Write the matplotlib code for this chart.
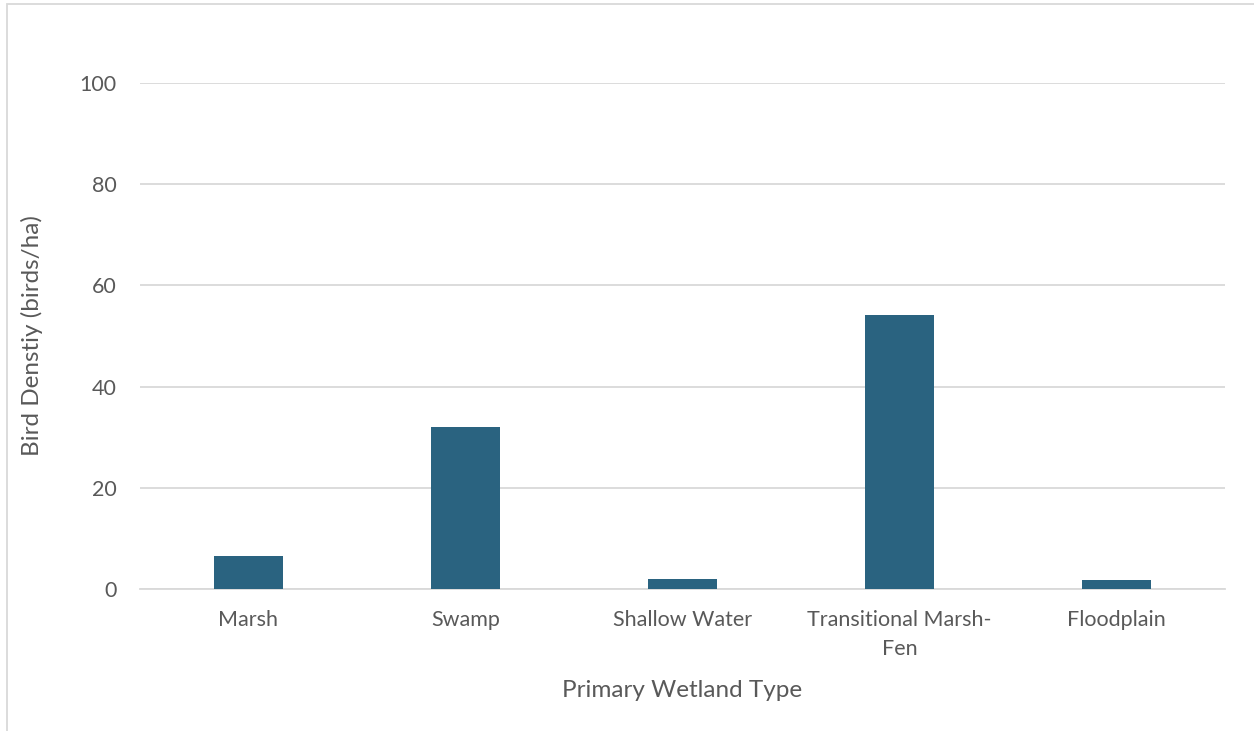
import matplotlib
matplotlib.use('Agg')
import matplotlib.pyplot as plt
from matplotlib.patches import Rectangle

categories = ['Marsh', 'Swamp', 'Shallow Water', 'Transitional Marsh-\nFen', 'Floodplain']
density = [6.5, 32.1, 2.0, 54.2, 1.7]
yticks = [0, 20, 40, 60, 80, 100]

plt.rcParams['font.family'] = ['Lato', 'DejaVu Sans']
txt = '#595959'
grid = '#D9D9D9'

fig = plt.figure(figsize=(12.54, 7.31), dpi=100)
ax = fig.add_axes([140/1254, 1-589/731, (1225-140)/1254, (589-83)/731])

x = range(len(categories))
ax.bar(x, density, width=0.315, color='#2A6380', zorder=3)

ax.set_xlim(-0.5, len(categories)-0.5)
ax.set_ylim(0, 100)
ax.set_yticks(yticks)
ax.set_xticks(list(x))
ax.set_xticklabels(categories, fontsize=15.5, color=txt, linespacing=1.55)
ax.tick_params(axis='y', labelsize=15.5, labelcolor=txt, length=0, pad=17)
ax.tick_params(axis='x', length=0, pad=15)
ax.grid(axis='y', color=grid, linewidth=1.3, zorder=0)
for s in ['top', 'right', 'left']:
    ax.spines[s].set_visible(False)
ax.spines['bottom'].set_color(grid)
ax.spines['bottom'].set_linewidth(1.3)

ax.set_ylabel('Bird Denstiy (birds/ha)', fontsize=17.5, color=txt)
ax.set_xlabel('Primary Wetland Type', fontsize=17.5, color=txt)
ax.yaxis.set_label_coords(-(140-43)/1085, 0.5)
ax.xaxis.set_label_coords(0.5, -(680-589)/506)

# outer chart border
fig.patches.append(Rectangle((7/1254, -0.05), 1.1, 1-4/731+0.05, transform=fig.transFigure,
                             fill=False, edgecolor='#D9D9D9', linewidth=1.3))

fig.savefig('out.png', dpi=100)
